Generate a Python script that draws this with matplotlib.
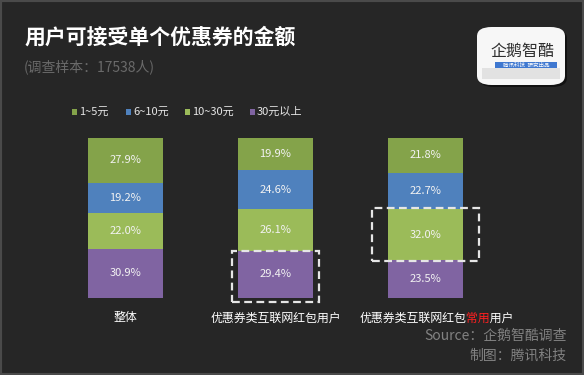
import matplotlib
matplotlib.use("Agg")
import matplotlib.pyplot as plt
from matplotlib.patches import Rectangle, FancyBboxPatch
from matplotlib.transforms import Bbox

plt.rcParams['font.family'] = ['Noto Sans CJK SC', 'DejaVu Sans']

# ---- data ----
categories = ["整体", "优惠券类互联网红包用户", "优惠券类互联网红包常用用户"]
series_names = ["1~5元", "6~10元", "10~30元", "30元以上"]
v_1_5 = [27.9, 19.9, 21.8]
v_6_10 = [19.2, 24.6, 22.7]
v_10_30 = [22.0, 26.1, 32.0]
v_30_up = [30.9, 29.4, 23.5]
colors = ["#84a34a", "#4f81bd", "#9bbb59", "#8064a2"]

BG = "#262626"
W, H = 584, 375
fig = plt.figure(figsize=(W / 100, H / 100), dpi=100, facecolor=BG)

def fx(px):
    return px / W

def fy(py):
    return 1 - py / H

# axes: x px 50.5..500.5, y px 138..298
ax = fig.add_axes([fx(50.5), fy(298), 450 / W, 160 / H])
ax.set_facecolor(BG)
ax.patch.set_alpha(0)
ax.set_xlim(-0.5, 2.5)
ax.set_ylim(0, 100)
ax.axis('off')

x = list(range(len(categories)))
stack_order = [v_30_up, v_10_30, v_6_10, v_1_5]
stack_colors = [colors[3], colors[2], colors[1], colors[0]]
bottoms = [0.0] * len(x)
for vals, c in zip(stack_order, stack_colors):
    ax.bar(x, vals, width=0.5, bottom=bottoms, color=c, edgecolor='none')
    for i, v in enumerate(vals):
        ax.text(x[i], bottoms[i] + v / 2, f"{v:.1f}%", ha='center', va='center',
                color='#f2f2f2', fontsize=8)
    bottoms = [b + v for b, v in zip(bottoms, vals)]

# dashed highlight boxes
r1 = Rectangle((1 - 0.29, -2.5), 0.58, v_30_up[1] + 2.5, fill=False,
               edgecolor='#e6e6e6', lw=1.6, linestyle=(0, (3.5, 2)), clip_on=False)
ax.add_patch(r1)
lo = v_30_up[2]
r2 = Rectangle((2 - 0.355, lo - 0.5), 0.71, v_10_30[2] + 1.3, fill=False,
               edgecolor='#e6e6e6', lw=1.6, linestyle=(0, (3.5, 2)), clip_on=False)
ax.add_patch(r2)

# category labels
FS = 8.6
ylab = fy(318)
fig.text(fx(125.5), ylab, categories[0], ha='center', va='center', color='white', fontsize=FS)
fig.text(fx(276), ylab, categories[1], ha='center', va='center', color='white', fontsize=FS)
lab3 = categories[2]
probe = fig.text(fx(437), ylab, lab3, ha='center', va='center', color='white', fontsize=FS)
fig.canvas.draw()
rend = fig.canvas.get_renderer()
ext = probe.get_window_extent(rend)
probe.remove()
n = len(lab3)
cw = ext.width / n
b1 = ext.x0 + 9 * cw
b2 = ext.x0 + 11 * cw
segs = [(0, b1, 'white'), (b1, b2, '#ff2020'), (b2, W * 2, 'white')]
for a, b, c in segs:
    t = fig.text(fx(437), ylab, lab3, ha='center', va='center', color=c, fontsize=FS)
    t.set_clip_on(True)
    t.set_clip_box(Bbox.from_extents(a, 0, b, H))

# title & subtitle
fig.text(fx(25), fy(37), "用户可接受单个优惠券的金额", ha='left', va='center',
         color='white', fontsize=15, fontweight='bold')
fig.text(fx(24), fy(67), "(调查样本：17538人)", ha='left', va='center',
         color='#6a6a6a', fontsize=10)

# legend
leg_x = [72, 126, 185, 250]
for lx, name, c in zip(leg_x, series_names, colors):
    fig.add_artist(Rectangle((fx(lx), fy(115)), 5 / W, 6 / H, transform=fig.transFigure,
                             facecolor=c, edgecolor='none'))
    fig.text(fx(lx + 7), fy(112), name, ha='left', va='center', color='#e6e6e6', fontsize=8)

# source
fig.text(fx(567), fy(336), "Source：企鹅智酷调查", ha='right', va='center',
         color='#828282', fontsize=10)
fig.text(fx(567), fy(356), "制图：腾讯科技", ha='right', va='center',
         color='#828282', fontsize=10)

# logo
fig.add_artist(FancyBboxPatch((fx(479), fy(87)), 88 / W, 58 / H,
                              boxstyle="round,pad=0,rounding_size=0.025",
                              transform=fig.transFigure, facecolor='#111111',
                              edgecolor='none'))
fig.add_artist(FancyBboxPatch((fx(477), fy(85)), 88 / W, 58 / H,
                              boxstyle="round,pad=0,rounding_size=0.025",
                              transform=fig.transFigure, facecolor='#f7f7f7',
                              edgecolor='none'))
fig.add_artist(Rectangle((fx(482), fy(79)), 78 / W, 11 / H, transform=fig.transFigure,
                         facecolor='#e2e2e2', edgecolor='none'))
fig.text(fx(522), fy(51), "企鹅智酷", ha='center', va='center', color='#2e2e2e', fontsize=11.5)
fig.add_artist(Rectangle((fx(495), fy(68)), 62 / W, 6 / H, transform=fig.transFigure,
                         facecolor='#3f78d0', edgecolor='none'))
fig.text(fx(526), fy(65), "腾讯科技  研究出品", ha='center', va='center', color='white',
         fontsize=4, style='italic')

# frame
fig.add_artist(Rectangle((0, 0), 1, 1, transform=fig.transFigure, fill=False,
                         edgecolor='#4a4a4a', lw=3))

fig.savefig("out.png", dpi=100, facecolor=BG)
